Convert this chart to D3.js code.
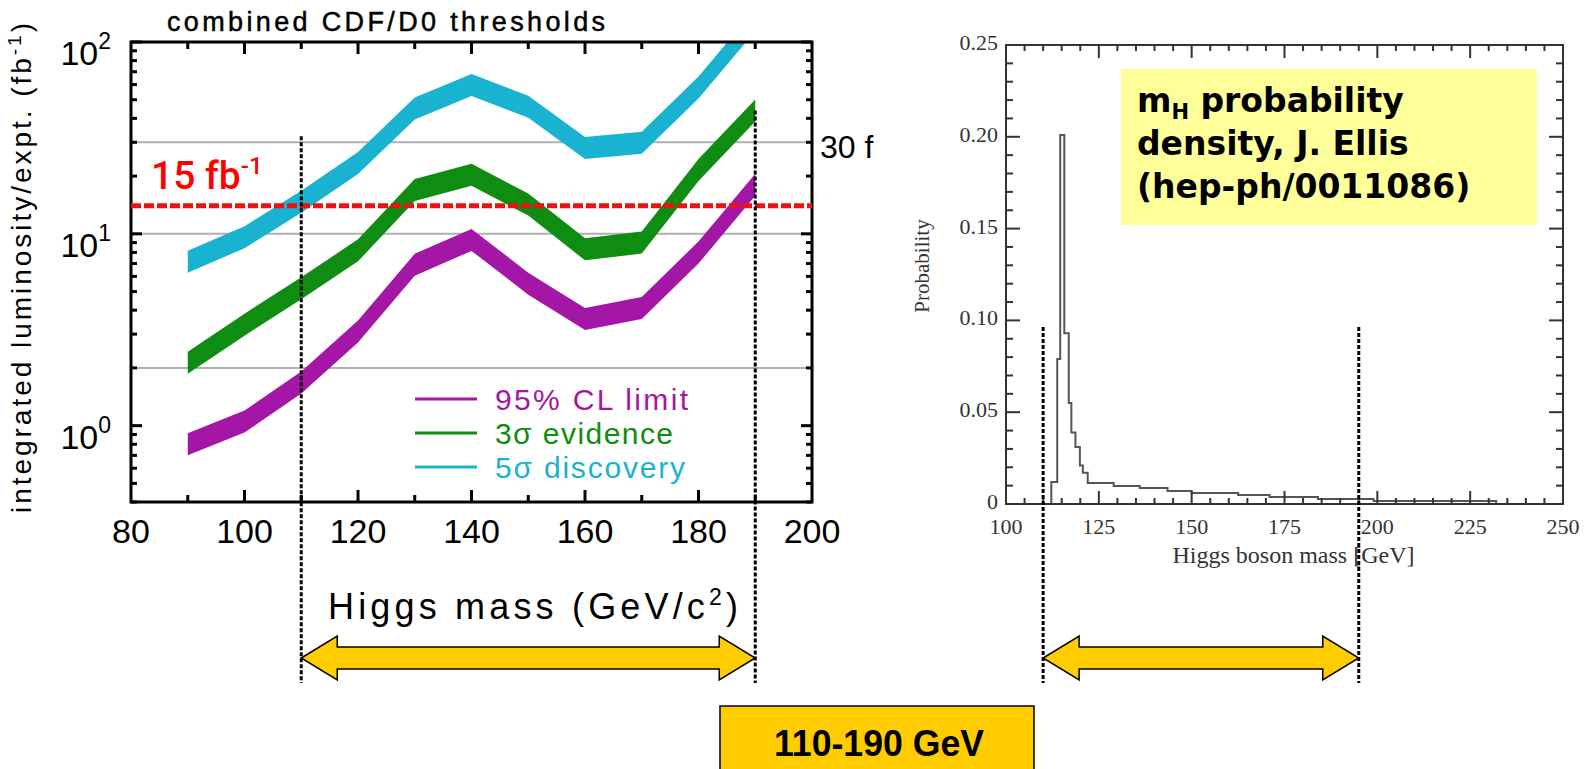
<!DOCTYPE html>
<html>
<head>
<meta charset="utf-8">
<script src="https://cdn.jsdelivr.net/npm/d3@7"></script>
<style>
  body { margin: 0; background: #fff; }
  svg { display: block; }
</style>
</head>
<body>
<svg id="chart"></svg>
<script>
// data
// left panel: luminosity needed per experiment (fb^-1) vs Higgs mass
const masses = [90, 100, 110, 120, 130, 140, 150, 160, 170, 180, 190];
const cl95 = [0.80, 1.05, 1.68, 3.1, 6.9, 9.3, 5.5, 3.6, 4.1, 8.0, 18];
const evid3 = [2.13, 3.36, 5.2, 8.2, 16.9, 20.3, 14.2, 8.3, 9.0, 21.5, 44];
const disc5 = [7.15, 9.6, 14.7, 23.4, 45, 59.7, 46, 28, 29.8, 58, 130];
const seriesNames = ["95% CL limit", "3σ evidence", "5σ discovery"];
const seriesColors = ["#a316a6", "#0f8c12", "#19b2d0"];
const xTickLabelsL = [80, 100, 120, 140, 160, 180, 200];
const xMinorL = [90, 100, 110, 120, 130, 140, 150, 160, 170, 180, 190];
const yMajorL = [1, 10, 100];
const gridVals = [2, 10, 30];
const threshold = 14;        // red "15 fb-1" line as drawn
const rangeLo = 110, rangeHi = 190;

// right panel: m_H probability density (histogram)
const histEdges = [112.2, 113.8, 114.6, 115.7, 116.9, 117.6, 118.7, 119.9, 120.7, 122, 129, 136, 143.5, 150, 162.5, 171, 184, 199, 232];
const histProb = [0.012, 0.079, 0.201, 0.093, 0.055, 0.039, 0.031, 0.021, 0.017, 0.0114, 0.0098, 0.0087, 0.0071, 0.006, 0.0049, 0.0038, 0.0027, 0.0016];
const xTickLabelsR = [100, 125, 150, 175, 200, 225, 250];
const yTickLabelsR = [0, 0.05, 0.10, 0.15, 0.20, 0.25];
const rangeHiR = 195; // dotted line on the right panel sits here

const width = 1587, height = 769;
const svg = d3.select("#chart").attr("width", width).attr("height", height);
svg.append("rect").attr("width", width).attr("height", height).attr("fill", "#fff");

const sansL = "'Liberation Sans', Arial, sans-serif";
const serif = "'Liberation Serif', 'Times New Roman', serif";
const boldSans = "'DejaVu Sans', Verdana, sans-serif";

// ---------- left panel ----------
const xL = d3.scaleLinear().domain([80, 200]).range([131, 812]);
const yL = d3.scaleLog().domain([0.4, 100]).range([502, 42]);

svg.append("clipPath").attr("id", "clipL")
  .append("rect")
  .attr("x", xL(80)).attr("y", yL(100))
  .attr("width", xL(200) - xL(80)).attr("height", yL(0.4) - yL(100));

// grid lines
svg.append("g").selectAll("line").data(gridVals).join("line")
  .attr("x1", xL(80)).attr("x2", xL(200))
  .attr("y1", d => yL(d)).attr("y2", d => yL(d))
  .attr("stroke", "#b0b0b0").attr("stroke-width", 2);

// thick bands
const bandData = [cl95, evid3, disc5];
const band = d3.area()
  .x(d => xL(d.m))
  .y0(d => yL(d.v) + 11)
  .y1(d => yL(d.v) - 11);
svg.append("g").attr("clip-path", "url(#clipL)")
  .selectAll("path").data(bandData).join("path")
  .attr("d", vals => band(vals.map((v, i) => ({ m: masses[i], v: v }))))
  .attr("fill", (d, i) => seriesColors[i]);

// frame
const gL = svg.append("g");
gL.append("rect")
  .attr("x", xL(80)).attr("y", yL(100))
  .attr("width", xL(200) - xL(80)).attr("height", yL(0.4) - yL(100))
  .attr("fill", "none").attr("stroke", "#000").attr("stroke-width", 3);

// x ticks (bottom up, top down)
xMinorL.forEach(v => {
  const len = v % 20 === 0 ? 12 : 7;
  gL.append("line").attr("x1", xL(v)).attr("x2", xL(v))
    .attr("y1", yL(0.4)).attr("y2", yL(0.4) - len)
    .attr("stroke", "#000").attr("stroke-width", 3);
  gL.append("line").attr("x1", xL(v)).attr("x2", xL(v))
    .attr("y1", yL(100)).attr("y2", yL(100) + len)
    .attr("stroke", "#000").attr("stroke-width", 3);
});
// y ticks left and right
yL.ticks().forEach(v => {
  const len = yMajorL.includes(v) ? 11 : 6;
  gL.append("line").attr("x1", xL(80)).attr("x2", xL(80) + len)
    .attr("y1", yL(v)).attr("y2", yL(v))
    .attr("stroke", "#000").attr("stroke-width", 3);
  gL.append("line").attr("x1", xL(200)).attr("x2", xL(200) - len)
    .attr("y1", yL(v)).attr("y2", yL(v))
    .attr("stroke", "#000").attr("stroke-width", 3);
});

// x tick labels
gL.selectAll("text.xl").data(xTickLabelsL).join("text")
  .attr("class", "xl")
  .attr("x", d => xL(d)).attr("y", yL(0.4) + 41)
  .attr("text-anchor", "middle")
  .attr("font-family", sansL).attr("font-size", 34)
  .text(d => d);

// y tick labels 10^n
yMajorL.forEach(v => {
  const t = gL.append("text")
    .attr("x", 111).attr("y", yL(v) + 23)
    .attr("text-anchor", "end")
    .attr("font-family", sansL).attr("font-size", 34);
  t.append("tspan").text("10");
  t.append("tspan").attr("dy", -16).attr("font-size", 23).text(Math.round(Math.log10(v)));
});

// title and axis labels
gL.append("text")
  .attr("x", 167).attr("y", 31)
  .attr("font-family", sansL).attr("font-size", 27)
  .attr("stroke", "#000").attr("stroke-width", 0.5)
  .attr("textLength", 438).attr("lengthAdjust", "spacing")
  .text("combined CDF/D0 thresholds");

const yLab = gL.append("text")
  .attr("transform", `translate(31, ${(yL(0.4) + yL(100)) / 2 - 4}) rotate(-90)`)
  .attr("text-anchor", "middle")
  .attr("font-family", sansL).attr("font-size", 28)
  .attr("textLength", 490).attr("lengthAdjust", "spacing");
yLab.append("tspan").text("integrated luminosity/expt. (fb");
yLab.append("tspan").attr("dy", -10).attr("font-size", 19).text("-1");
yLab.append("tspan").attr("dy", 10).text(")");

const xLab = gL.append("text")
  .attr("x", 328).attr("y", 619)
  .attr("font-family", sansL).attr("font-size", 36)
  .attr("textLength", 410).attr("lengthAdjust", "spacing");
xLab.append("tspan").text("Higgs mass (GeV/c");
xLab.append("tspan").attr("dy", -14).attr("font-size", 23).text("2");
xLab.append("tspan").attr("dy", 14).text(")");

gL.append("text")
  .attr("x", xL(200) + 8).attr("y", yL(30) + 16)
  .attr("font-family", sansL).attr("font-size", 32)
  .text("30  f");

// legend
const leg = gL.append("g");
seriesNames.forEach((name, i) => {
  const yy = 399 + i * 34;
  leg.append("line").attr("x1", 415).attr("x2", 477)
    .attr("y1", yy).attr("y2", yy)
    .attr("stroke", seriesColors[i]).attr("stroke-width", 3);
  leg.append("text")
    .attr("x", 495).attr("y", yy + 11)
    .attr("font-family", sansL).attr("font-size", 30)
    .attr("fill", seriesColors[i])
    .attr("textLength", [193, 178, 190][i]).attr("lengthAdjust", "spacing")
    .text(name);
});

// red 15 fb-1 line
svg.append("line")
  .attr("x1", xL(80)).attr("x2", xL(200))
  .attr("y1", yL(threshold)).attr("y2", yL(threshold))
  .attr("stroke", "#f01010").attr("stroke-width", 5)
  .attr("stroke-dasharray", "10,3");
const redLab = svg.append("text")
  .attr("x", 151).attr("y", 189)
  .attr("font-family", "Roboto, 'Liberation Sans', sans-serif").attr("font-weight", 500).attr("font-size", 39)
  .attr("fill", "#f00");
redLab.append("tspan").text("15 fb");
redLab.append("tspan").attr("dy", -15).attr("font-size", 24).text("-1");

// ---------- right panel ----------
const xR = d3.scaleLinear().domain([100, 250]).range([1006, 1563]);
const yR = d3.scaleLinear().domain([0, 0.25]).range([504, 45]);
const gR = svg.append("g");

// histogram outline
const histPts = [{ m: histEdges[0], p: 0 }];
histProb.forEach((p, i) => histPts.push({ m: histEdges[i], p: p }));
histPts.push({ m: histEdges[histEdges.length - 1], p: histProb[histProb.length - 1] });
histPts.push({ m: histEdges[histEdges.length - 1], p: 0 });
gR.append("path")
  .attr("d", d3.line().x(d => xR(d.m)).y(d => yR(d.p)).curve(d3.curveStepAfter)(histPts))
  .attr("fill", "none").attr("stroke", "#555").attr("stroke-width", 2);

gR.append("rect")
  .attr("x", xR(100)).attr("y", yR(0.25))
  .attr("width", xR(250) - xR(100)).attr("height", yR(0) - yR(0.25))
  .attr("fill", "none").attr("stroke", "#333").attr("stroke-width", 2);

d3.range(100, 251, 5).forEach(v => {
  const len = v % 25 === 0 ? 13 : 6;
  gR.append("line").attr("x1", xR(v)).attr("x2", xR(v))
    .attr("y1", yR(0)).attr("y2", yR(0) - len).attr("stroke", "#333").attr("stroke-width", 2);
  gR.append("line").attr("x1", xR(v)).attr("x2", xR(v))
    .attr("y1", yR(0.25)).attr("y2", yR(0.25) + len).attr("stroke", "#333").attr("stroke-width", 2);
});
yR.ticks(25).forEach(v => {
  const major = yTickLabelsR.some(t => Math.abs(t - v) < 1e-9);
  const len = major ? 14 : 7;
  gR.append("line").attr("x1", xR(100)).attr("x2", xR(100) + len)
    .attr("y1", yR(v)).attr("y2", yR(v)).attr("stroke", "#333").attr("stroke-width", 2);
  gR.append("line").attr("x1", xR(250)).attr("x2", xR(250) - len)
    .attr("y1", yR(v)).attr("y2", yR(v)).attr("stroke", "#333").attr("stroke-width", 2);
});

gR.selectAll("text.xr").data(xTickLabelsR).join("text")
  .attr("class", "xr")
  .attr("x", d => xR(d)).attr("y", yR(0) + 30)
  .attr("text-anchor", "middle")
  .attr("font-family", serif).attr("font-size", 22).attr("fill", "#333")
  .text(d => d);
gR.selectAll("text.yr").data(yTickLabelsR).join("text")
  .attr("class", "yr")
  .attr("x", xR(100) - 8).attr("y", d => yR(d) + 5)
  .attr("text-anchor", "end")
  .attr("font-family", serif).attr("font-size", 22).attr("fill", "#333")
  .text(d => d === 0 ? "0" : d3.format(".2f")(d));

gR.append("text")
  .attr("x", (xR(100) + xR(250)) / 2 + 9).attr("y", 563)
  .attr("text-anchor", "middle")
  .attr("font-family", serif).attr("font-size", 24).attr("fill", "#333")
  .text("Higgs boson mass [GeV]");
gR.append("text")
  .attr("transform", `translate(929, 266) rotate(-90)`)
  .attr("text-anchor", "middle")
  .attr("font-family", serif).attr("font-size", 21).attr("fill", "#333")
  .text("Probability");

// yellow note box
gR.append("rect")
  .attr("x", 1121).attr("y", 69).attr("width", 416).attr("height", 156)
  .attr("fill", "#ffff99");
const note = gR.append("text")
  .attr("font-family", boldSans).attr("font-weight", 700).attr("font-size", 33);
const l1 = note.append("tspan").attr("x", 1137).attr("y", 112);
l1.append("tspan").text("m");
l1.append("tspan").attr("dy", 7).attr("font-size", 21).text("H");
l1.append("tspan").attr("dy", -7).text(" probability");
note.append("tspan").attr("x", 1137).attr("y", 155).text("density, J. Ellis");
note.append("tspan").attr("x", 1137).attr("y", 198).text("(hep-ph/0011086)");

// ---------- range markers ----------
const markers = [
  { x: xL(rangeLo), top: yL(30) - 6 },
  { x: xL(rangeHi), top: yL(evid3[evid3.length - 1]) },
  { x: xR(rangeLo), top: 327 },
  { x: xR(rangeHiR), top: 327 }
];
svg.append("g").selectAll("line").data(markers).join("line")
  .attr("x1", d => d.x).attr("x2", d => d.x)
  .attr("y1", d => d.top).attr("y2", 683)
  .attr("stroke", "#000").attr("stroke-width", 3)
  .attr("stroke-dasharray", "4,2");

// double arrows
function dblArrow(x0, x1, yc) {
  const hh = 22, sh = 11, hl = 36;
  const pts = [
    [x0, yc], [x0 + hl, yc - hh], [x0 + hl, yc - sh], [x1 - hl, yc - sh], [x1 - hl, yc - hh],
    [x1, yc], [x1 - hl, yc + hh], [x1 - hl, yc + sh], [x0 + hl, yc + sh], [x0 + hl, yc + hh]
  ];
  svg.append("path")
    .attr("d", d3.line()(pts) + "Z")
    .attr("fill", "#ffcc00").attr("stroke", "#000").attr("stroke-width", 1.5)
    .attr("stroke-linejoin", "miter");
}
dblArrow(xL(rangeLo), xL(rangeHi), 658);
dblArrow(xR(rangeLo), xR(rangeHiR), 658);

// bottom label box
svg.append("rect")
  .attr("x", 720).attr("y", 706).attr("width", 314).attr("height", 80)
  .attr("fill", "#ffcc00").attr("stroke", "#000").attr("stroke-width", 1.5);
svg.append("text")
  .attr("x", 774).attr("y", 756)
  .attr("font-family", "'Liberation Sans', Arial, sans-serif").attr("font-weight", 700).attr("font-size", 37)
  .attr("textLength", 210).attr("lengthAdjust", "spacingAndGlyphs")
  .text(`${rangeLo}-${rangeHi} GeV`);
</script>
</body>
</html>
